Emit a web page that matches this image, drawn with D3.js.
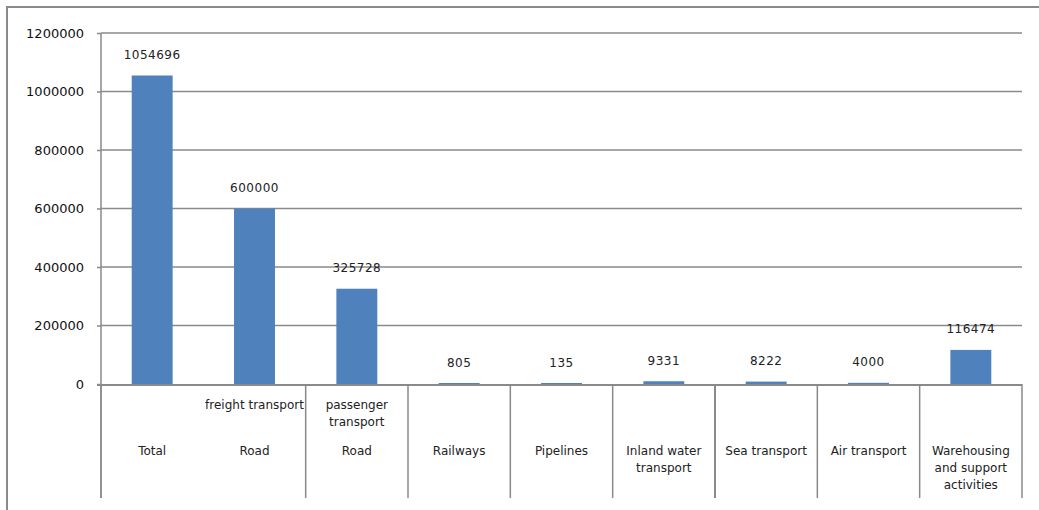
<!DOCTYPE html>
<html>
<head>
<meta charset="utf-8">
<script src="https://cdn.jsdelivr.net/npm/d3@7/dist/d3.min.js"></script>
<style>
  html, body { margin: 0; padding: 0; background: #fff; }
  svg { display: block; }
</style>
</head>
<body>
<script>
// Transport sector figures by mode
const categories = ["Total", "Road", "Road", "Railways", "Pipelines",
  "Inland water transport", "Sea transport", "Air transport",
  "Warehousing and support activities"];
const subLabels = ["", "freight transport", "passenger transport", "", "", "", "", "", ""];
const values = [1054696, 600000, 325728, 805, 135, 9331, 8222, 4000, 116474];
const yTicks = [0, 200000, 400000, 600000, 800000, 1000000, 1200000];
// category boundaries that get a divider line on the category axis
const dividers = [0, 2, 3, 4, 5, 6, 7, 8, 9];

const W = 1039, H = 510;
const plotLeft = 101, plotRight = 1022, plotTop = 33, base = 384, axisBottom = 498;
const grey = "#8a8a8a";
const barColor = "#4f81bd";
const font = "'DejaVu Sans', Verdana, sans-serif";

const svg = d3.select("body").append("svg").attr("width", W).attr("height", H);

// outer frame (top and left edges)
svg.append("line").attr("x1", 7).attr("x2", W).attr("y1", 7).attr("y2", 7)
  .attr("stroke", grey).attr("stroke-width", 2);
svg.append("line").attr("x1", 7).attr("x2", 7).attr("y1", 6).attr("y2", H)
  .attr("stroke", grey).attr("stroke-width", 2);

const x = d3.scaleBand().domain(d3.range(categories.length)).range([plotLeft, plotRight])
  .paddingInner(0).paddingOuter(0);
const y = d3.scaleLinear().domain([0, 1200000]).range([base, plotTop]);

// gridlines
svg.append("g").selectAll("line").data(yTicks.filter(t => t > 0)).join("line")
  .attr("x1", plotLeft).attr("x2", plotRight)
  .attr("y1", d => y(d)).attr("y2", d => y(d))
  .attr("stroke", grey).attr("stroke-width", 1.5);

// y axis
const yAxis = d3.axisLeft(y).tickValues(yTicks).tickSize(4).tickPadding(13)
  .tickFormat(d3.format("d"));
const gy = svg.append("g").attr("transform", `translate(${plotLeft},0)`).call(yAxis);
gy.select(".domain").remove();
gy.selectAll(".tick line").attr("stroke", grey).attr("stroke-width", 1.5);
gy.selectAll(".tick text").attr("font-family", font).attr("font-size", 13)
  .attr("fill", "#111");
svg.append("line").attr("x1", plotLeft).attr("x2", plotLeft).attr("y1", plotTop).attr("y2", axisBottom)
  .attr("stroke", grey).attr("stroke-width", 1.5);

// bars
const bw = x.bandwidth() * 0.4;
svg.append("g").selectAll("rect").data(values).join("rect")
  .attr("x", (d, i) => x(i) + (x.bandwidth() - bw) / 2)
  .attr("width", bw)
  .attr("y", d => Math.min(y(d), y(0) - 1))
  .attr("height", d => Math.max(1, y(0) - y(d)))
  .attr("fill", barColor);

// zero line and category dividers
svg.append("line").attr("x1", plotLeft - 4).attr("x2", plotRight).attr("y1", base + 1).attr("y2", base + 1)
  .attr("stroke", grey).attr("stroke-width", 2);
const bx = i => i === categories.length ? plotRight : x(i);
svg.append("g").selectAll("line").data(dividers).join("line")
  .attr("x1", d => bx(d)).attr("x2", d => bx(d))
  .attr("y1", base).attr("y2", axisBottom)
  .attr("stroke", grey).attr("stroke-width", d => d === 6 ? 2 : 1.5);

// value labels
svg.append("g").selectAll("text").data(values).join("text")
  .attr("x", (d, i) => x(i) + x.bandwidth() / 2)
  .attr("y", d => y(d) - 20)
  .attr("text-anchor", "middle").attr("dominant-baseline", "middle")
  .attr("font-family", font).attr("font-size", 12).attr("letter-spacing", 0.5)
  .attr("fill", "#222")
  .text(d => d);

// wrapped category text
function wrapText(sel, str, cx, y0, maxW, lh) {
  const words = str.split(" ");
  const t = sel.append("text").attr("text-anchor", "middle")
    .attr("font-family", font).attr("font-size", 12).attr("fill", "#222");
  let line = [], n = 0;
  let ts = t.append("tspan").attr("x", cx).attr("y", y0);
  words.forEach(w => {
    line.push(w);
    ts.text(line.join(" "));
    if (ts.node().getComputedTextLength() > maxW && line.length > 1) {
      line.pop();
      ts.text(line.join(" "));
      line = [w];
      n++;
      ts = t.append("tspan").attr("x", cx).attr("y", y0 + n * lh).text(w);
    }
  });
}
const catG = svg.append("g");
categories.forEach((c, i) => {
  const cx = x(i) + x.bandwidth() / 2;
  wrapText(catG, c, cx, 455, 100, 17);
  if (subLabels[i]) wrapText(catG, subLabels[i], cx, 409, 100, 17);
});
</script>
</body>
</html>
